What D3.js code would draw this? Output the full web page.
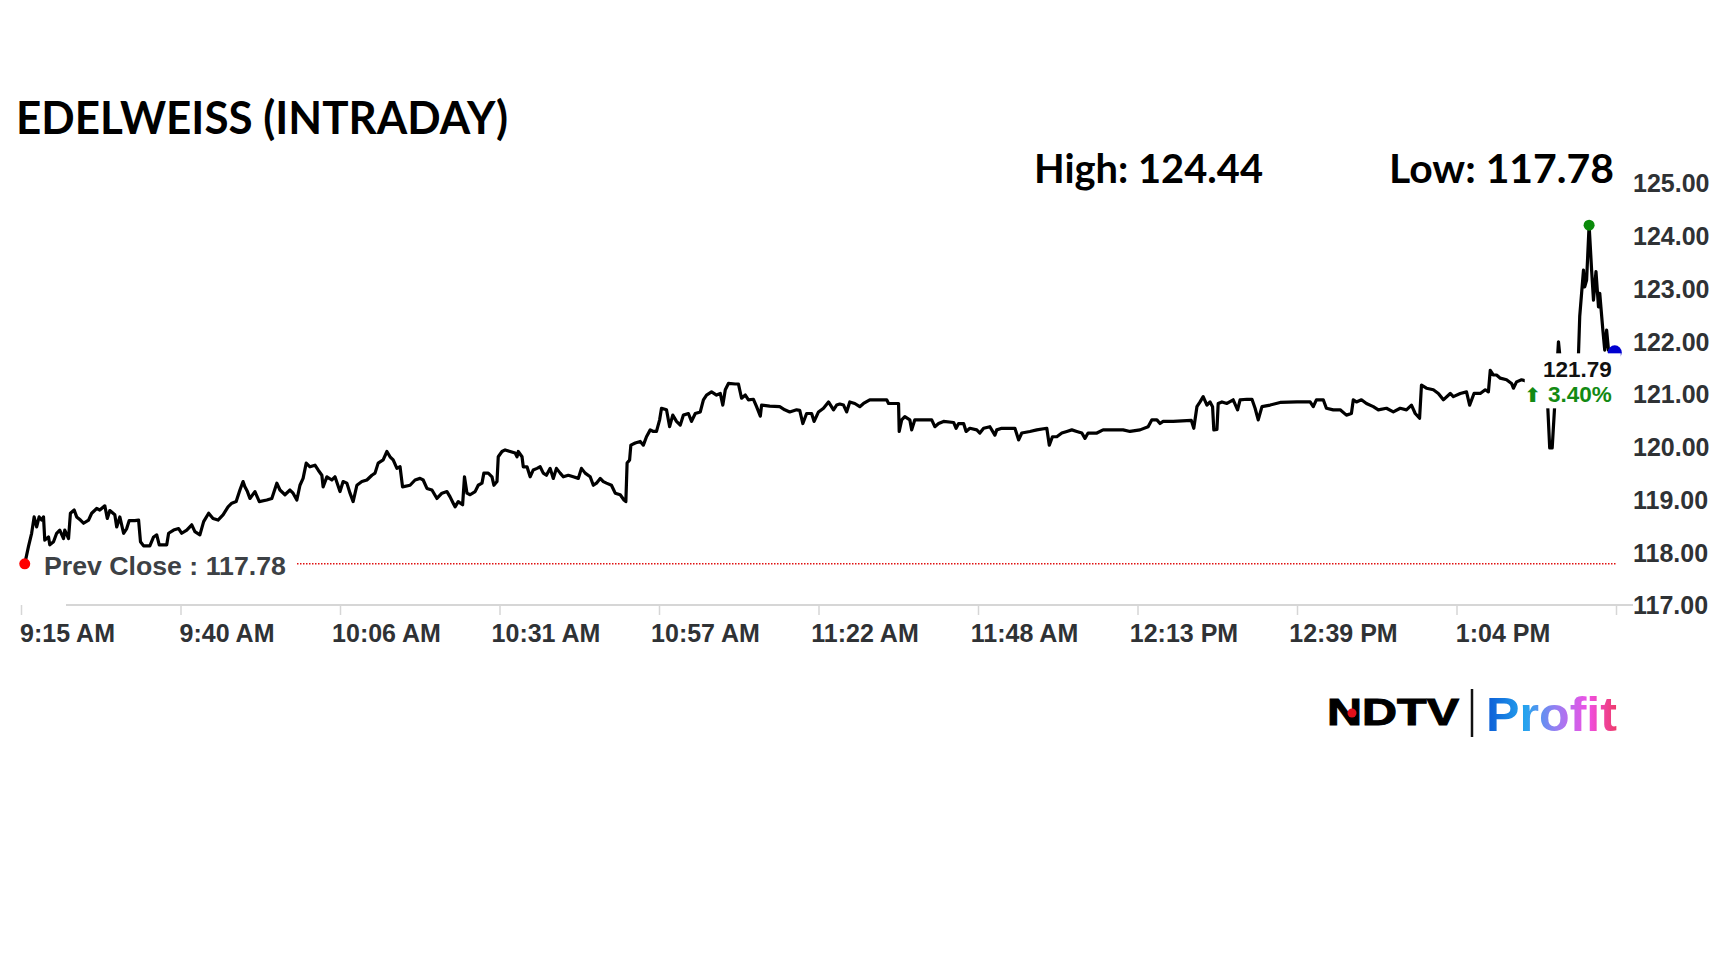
<!DOCTYPE html>
<html>
<head>
<meta charset="utf-8">
<script src="https://cdn.jsdelivr.net/npm/d3@7"></script>
<style>
    body { margin: 0; background: #fff; }
    svg text { font-family: "Liberation Sans", Arial, sans-serif; }
</style>
</head>
<body>
<div id="intraday"></div>
<script>
// minutes after 9:15 AM and traded price
const minutes = [
    0.6,1.2,1.7,2.1,2.5,2.9,3.3,3.6,3.8,4.4,
    4.6,5.2,5.7,6.2,6.8,7.0,7.6,7.9,8.5,8.9,
    9.5,10.0,10.8,11.3,12.1,12.6,13.4,13.8,14.2,15.0,
    15.3,15.8,16.4,16.9,17.3,18.2,18.8,19.1,19.6,20.6,
    21.2,21.7,22.1,23.3,23.6,24.4,25.2,25.7,26.5,27.3,
    27.8,28.6,29.2,30.0,30.7,31.5,32.3,33.1,33.7,34.4,
    35.0,35.5,35.8,36.2,36.6,37.4,38.1,39.3,40.1,40.9,
    41.4,42.2,43.0,43.5,44.1,44.6,45.1,45.6,46.2,47.0,
    47.5,48.1,48.3,48.9,49.7,50.2,51.0,51.5,52.1,52.6,
    53.1,53.7,54.5,55.3,56.1,56.6,57.1,57.9,58.5,59.0,
    59.5,60.1,60.6,61.0,62.2,63.0,63.8,64.3,64.9,65.7,
    66.5,67.3,68.1,68.6,69.1,69.4,69.9,70.6,70.9,71.3,
    71.8,72.6,73.1,73.7,74.0,74.7,75.3,75.6,76.1,76.3,
    76.9,77.4,78.2,79.0,79.3,79.5,80.1,80.3,80.9,81.4,
    81.9,82.5,83.0,83.5,84.0,84.6,85.1,85.6,86.2,86.7,
    87.5,88.3,89.1,89.6,90.2,91.0,91.5,92.0,92.6,93.1,
    93.6,94.4,95.0,95.8,96.4,96.7,96.9,97.3,97.5,98.2,
    99.0,99.5,100.0,100.6,101.1,101.6,102.1,102.4,103.2,103.7,
    104.2,104.8,105.4,105.9,106.7,107.2,107.8,108.6,109.1,109.6,
    110.4,111.2,111.8,112.2,112.6,113.1,114.2,114.7,115.2,115.8,
    116.3,117.1,117.6,118.2,118.4,119.7,121.3,122.1,122.9,124.0,
    124.5,125.0,125.6,126.4,126.8,127.5,128.3,129.1,129.9,130.4,
    130.9,131.5,132.0,132.5,133.3,134.1,134.7,135.7,138.4,138.7,
    140.3,140.4,140.8,141.3,142.1,142.4,142.9,145.6,146.1,146.7,
    147.5,149.1,149.5,149.9,150.7,151.1,151.7,152.8,153.3,153.9,
    154.9,155.7,156.0,156.8,158.9,159.5,160.0,161.3,162.4,164.0,
    164.4,164.9,165.6,166.4,167.2,168.0,168.8,169.6,170.1,170.6,
    172.0,173.0,176.2,177.3,178.9,180.2,180.8,181.6,182.1,182.6,
    184.2,187.1,187.5,188.0,188.5,189.0,189.6,190.1,190.5,190.7,
    191.2,191.4,192.0,192.8,193.8,194.5,194.9,196.0,196.8,197.3,
    197.8,198.4,199.7,201.3,204.0,206.1,206.6,207.1,208.2,208.7,
    209.8,210.9,211.9,212.7,213.0,213.5,214.3,215.1,216.2,217.0,
    218.3,219.4,220.5,221.5,222.3,222.9,223.6,223.9,224.7,225.8,
    226.6,227.4,228.5,229.0,230.1,231.1,231.6,232.3,233.3,234.1,
    234.6,234.9,235.4,235.9,236.5,237.5,238.3,238.6,239.1,239.9,
    242.0,243.6,244.1,244.4,244.8,245.8,246.4,247.6,248.8,249.0,
    249.2,249.8,250.0,250.3,250.7,251.1,251.4,251.8,252.2,252.4,
    252.9,253.2,253.5,253.8,254.3,254.8
];
const prices = [
    117.78,118.11,118.36,118.67,118.48,118.67,118.61,118.67,118.23,118.29,
    118.14,118.20,118.36,118.42,118.26,118.42,118.26,118.74,118.80,118.67,
    118.61,118.55,118.61,118.74,118.83,118.80,118.88,118.64,118.79,118.71,
    118.48,118.67,118.36,118.45,118.60,118.60,118.61,118.20,118.12,118.12,
    118.29,118.33,118.14,118.14,118.36,118.42,118.45,118.36,118.42,118.52,
    118.39,118.33,118.58,118.74,118.64,118.61,118.71,118.86,118.93,118.96,
    119.18,119.34,119.24,119.15,119.02,119.15,118.96,118.99,119.02,119.31,
    119.18,119.09,119.18,119.12,118.99,119.27,119.40,119.69,119.62,119.65,
    119.56,119.46,119.24,119.43,119.37,119.43,119.15,119.34,119.31,119.12,
    118.96,119.27,119.34,119.37,119.46,119.50,119.69,119.75,119.91,119.81,
    119.75,119.59,119.62,119.24,119.27,119.37,119.40,119.37,119.21,119.18,
    119.02,119.12,119.15,119.05,118.93,118.86,118.96,118.90,119.43,119.12,
    119.09,119.15,119.27,119.31,119.50,119.50,119.43,119.27,119.34,119.81,
    119.91,119.94,119.91,119.88,119.81,119.91,119.81,119.62,119.62,119.43,
    119.56,119.59,119.62,119.50,119.46,119.59,119.40,119.59,119.50,119.43,
    119.46,119.43,119.40,119.59,119.50,119.43,119.27,119.31,119.40,119.34,
    119.31,119.27,119.12,119.09,118.99,118.96,119.69,119.75,120.03,120.07,
    120.10,120.03,120.19,120.32,120.29,120.29,120.51,120.73,120.70,120.38,
    120.60,120.48,120.41,120.60,120.63,120.48,120.63,120.66,120.89,120.98,
    121.04,120.98,121.01,120.79,121.08,121.20,121.19,121.19,120.92,120.98,
    120.89,120.90,120.76,120.58,120.79,120.77,120.76,120.70,120.66,120.70,
    120.69,120.44,120.63,120.63,120.48,120.66,120.73,120.85,120.70,120.79,
    120.81,120.79,120.66,120.85,120.82,120.76,120.82,120.89,120.89,120.82,
    120.82,120.29,120.51,120.57,120.51,120.32,120.51,120.51,120.38,120.44,
    120.48,120.46,120.35,120.44,120.44,120.29,120.35,120.32,120.26,120.35,
    120.38,120.22,120.32,120.35,120.35,120.13,120.26,120.29,120.32,120.35,
    120.03,120.19,120.19,120.26,120.29,120.32,120.29,120.26,120.16,120.26,
    120.26,120.32,120.32,120.29,120.32,120.38,120.51,120.51,120.44,120.48,
    120.48,120.50,120.35,120.76,120.85,120.95,120.79,120.85,120.76,120.32,
    120.33,120.82,120.85,120.82,120.89,120.70,120.89,120.90,120.90,120.73,
    120.51,120.76,120.79,120.84,120.85,120.85,120.76,120.89,120.89,120.73,
    120.70,120.70,120.60,120.63,120.89,120.85,120.89,120.82,120.76,120.70,
    120.73,120.66,120.73,120.70,120.79,120.63,120.54,121.17,121.11,121.08,
    121.01,120.89,121.01,120.95,121.01,121.04,120.79,121.01,121.01,121.08,
    121.04,121.45,121.36,121.36,121.30,121.27,121.20,121.11,121.23,121.27,
    121.20,121.00,120.73,119.98,119.98,121.99,121.27,121.35,121.45,121.74,
    122.47,123.35,123.03,123.16,124.20,123.35,122.78,123.32,122.65,122.91,
    122.21,121.83,122.21,121.83,121.80,121.79
];

const tickMinutes = [0, 25.5, 51, 76.5, 102, 127.5, 153, 178.5, 204, 229.5, 255];
const tickLabels = ["9:15 AM", "9:40 AM", "10:06 AM", "10:31 AM", "10:57 AM", "11:22 AM",
    "11:48 AM", "12:13 PM", "12:39 PM", "1:04 PM", ""];
const priceTicks = [117, 118, 119, 120, 121, 122, 123, 124, 125];

const title = "EDELWEISS (INTRADAY)";
const dayHigh = 124.44, dayLow = 117.78, prevClose = 117.78;
const lastPrice = 121.79, changePct = 3.40;

var width = 1728, height = 972;

var svg = d3.select("#intraday")
    .append("svg")
    .attr("width", width)
    .attr("height", height);

const xScale = d3.scaleLinear().domain([0, 255]).range([21, 1616]);
const yScale = d3.scaleLinear().domain([117, 125]).range([605, 183]);

const series = minutes.map((m, i) => ({m: m, p: prices[i]}));

// title and high / low
svg.append("text")
    .attr("x", 16).attr("y", 134)
    .attr("textLength", 492)
    .attr("lengthAdjust", "spacingAndGlyphs")
    .style("font-family", "Lato, sans-serif")
    .style("font-weight", 700)
    .style("font-size", "46px")
    .attr("fill", "#000")
    .text(title);

svg.append("text")
    .attr("x", 1034).attr("y", 183)
    .attr("textLength", 229)
    .attr("lengthAdjust", "spacingAndGlyphs")
    .style("font-family", "Lato, sans-serif")
    .style("font-weight", 700)
    .style("font-size", "41px")
    .text("High: " + dayHigh.toFixed(2));

svg.append("text")
    .attr("x", 1389).attr("y", 183)
    .attr("textLength", 225)
    .attr("lengthAdjust", "spacingAndGlyphs")
    .style("font-family", "Lato, sans-serif")
    .style("font-weight", 700)
    .style("font-size", "41px")
    .text("Low: " + dayLow.toFixed(2));

// x axis
const xAxis = svg.append("g")
    .attr("transform", `translate(0, ${yScale(117)})`)
    .call(d3.axisBottom(xScale)
        .tickValues(tickMinutes)
        .tickFormat((d, i) => tickLabels[i])
        .tickSize(10));

xAxis.select(".domain").remove();
xAxis.selectAll(".tick line").attr("stroke", "#d6d6d6").attr("stroke-width", 1.5);
xAxis.selectAll(".tick text")
    .attr("x", 46)
    .attr("y", 37)
    .attr("dy", 0)
    .attr("fill", "#2f3235")
    .style("font-size", "25px")
    .style("font-weight", "bold");

xAxis.append("line")
    .attr("x1", xScale(0) + 45)
    .attr("x2", xScale(255) + 17)
    .attr("y1", 0).attr("y2", 0)
    .attr("stroke", "#d6d6d6")
    .attr("stroke-width", 2);

// y axis on the right
const yAxis = svg.append("g")
    .attr("transform", `translate(${xScale(255) + 17}, 0)`)
    .call(d3.axisRight(yScale)
        .tickValues(priceTicks)
        .tickFormat(d3.format(".2f"))
        .tickSize(0)
        .tickPadding(0));

yAxis.select(".domain").remove();
yAxis.selectAll(".tick text")
    .attr("dy", "0.35em")
    .attr("fill", "#2f3235")
    .style("font-size", "25px")
    .style("font-weight", "bold");

// previous close reference
svg.append("line")
    .attr("x1", xScale(0) + 276)
    .attr("x2", xScale(255))
    .attr("y1", yScale(prevClose))
    .attr("y2", yScale(prevClose))
    .attr("stroke", "#e01010")
    .attr("stroke-width", 1.5)
    .attr("stroke-dasharray", "1.5,1.5");

svg.append("text")
    .attr("x", xScale(0) + 23)
    .attr("y", yScale(prevClose) + 11)
    .attr("fill", "#3d4145")
    .style("font-size", "26.7px")
    .style("font-weight", "bold")
    .text("Prev Close : " + prevClose.toFixed(2));

// price line
const line = d3.line()
    .x(d => xScale(d.m))
    .y(d => yScale(d.p));

svg.append("path")
    .datum(series)
    .attr("fill", "none")
    .attr("stroke", "#000")
    .attr("stroke-width", 3.2)
    .attr("stroke-linejoin", "round")
    .attr("d", line);

const first = series[0];
const last = series[series.length - 1];
const peak = series.reduce((a, b) => (b.p > a.p ? b : a));

svg.append("circle")
    .attr("cx", xScale(first.m)).attr("cy", yScale(first.p))
    .attr("r", 5.5).attr("fill", "#f00");

svg.append("circle")
    .attr("cx", xScale(peak.m)).attr("cy", yScale(peak.p))
    .attr("r", 5.5).attr("fill", "#0a8a0a");

svg.append("circle")
    .attr("cx", xScale(last.m)).attr("cy", yScale(last.p))
    .attr("r", 7).attr("fill", "#0000d0");

// last price label
const lx = xScale(last.m);
const ly = yScale(last.p);

svg.append("rect")
    .attr("x", lx - 90).attr("y", ly + 1)
    .attr("width", 96).attr("height", 55)
    .attr("fill", "#fff");

svg.append("text")
    .attr("x", lx - 3).attr("y", ly + 25)
    .attr("text-anchor", "end")
    .attr("fill", "#111")
    .style("font-size", "22.5px")
    .style("font-weight", "bold")
    .text(lastPrice.toFixed(2));

svg.append("text")
    .attr("x", lx - 3).attr("y", ly + 50)
    .attr("text-anchor", "end")
    .attr("fill", "#138a13")
    .style("font-size", "22.5px")
    .style("font-weight", "bold")
    .text(changePct.toFixed(2) + "%");

svg.append("text")
    .attr("x", lx - 82).attr("y", ly + 50)
    .attr("text-anchor", "middle")
    .attr("fill", "#138a13")
    .style("font-family", "DejaVu Sans, sans-serif")
    .style("font-size", "20px")
    .style("font-weight", "bold")
    .text("\u2B06");

// NDTV Profit mark
const logo = svg.append("g");

logo.append("text")
    .attr("x", 1327).attr("y", 725)
    .attr("textLength", 132)
    .attr("lengthAdjust", "spacingAndGlyphs")
    .style("font-size", "37px")
    .style("font-weight", "900")
    .attr("fill", "#000")
    .attr("stroke", "#000")
    .attr("stroke-width", 1)
    .text("NDTV");

logo.append("circle")
    .attr("cx", 1352).attr("cy", 713)
    .attr("r", 4.5).attr("fill", "#e0101a");

logo.append("line")
    .attr("x1", 1472).attr("x2", 1472)
    .attr("y1", 689).attr("y2", 737)
    .attr("stroke", "#111")
    .attr("stroke-width", 2.5);

const grad = svg.append("defs").append("linearGradient")
    .attr("id", "profitGrad")
    .attr("gradientUnits", "userSpaceOnUse")
    .attr("x1", 1486).attr("x2", 1617)
    .attr("y1", 0).attr("y2", 0);

[["0", "#0b5bd6"], ["0.3", "#25a4ee"], ["0.55", "#9d7cf2"], ["0.78", "#f04fe4"], ["1", "#ee3a68"]]
    .forEach(s => grad.append("stop").attr("offset", s[0]).attr("stop-color", s[1]));

logo.append("text")
    .attr("x", 1486).attr("y", 731)
    .attr("textLength", 131)
    .attr("lengthAdjust", "spacingAndGlyphs")
    .style("font-size", "48px")
    .style("font-weight", "bold")
    .attr("fill", "url(#profitGrad)")
    .text("Profit");
</script>
</body>
</html>
